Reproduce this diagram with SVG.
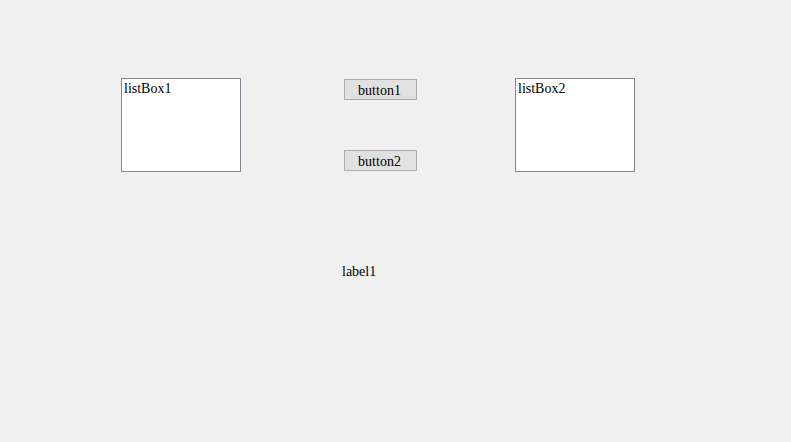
<svg xmlns="http://www.w3.org/2000/svg" width="791" height="442" viewBox="0 0 791 442">
<style>
.lb{fill:#ffffff;stroke:#828790;stroke-width:1}
.btn{fill:#e1e1e1;stroke:#adadad;stroke-width:1}
text{font-family:"Liberation Serif","DejaVu Serif",serif;font-size:14px;fill:#000}
</style>
<rect x="0" y="0" width="791" height="442" fill="#f0f0f0"/>
<g id="listBox1">
<rect class="lb" x="121.5" y="78.5" width="119" height="93"/>
<text x="124" y="93">listBox1</text>
</g>
<g id="button1">
<rect class="btn" x="344.5" y="79.5" width="72" height="20"/>
<text x="379.5" y="95" text-anchor="middle">button1</text>
</g>
<g id="button2">
<rect class="btn" x="344.5" y="150.5" width="72" height="20"/>
<text x="379.5" y="166" text-anchor="middle">button2</text>
</g>
<g id="listBox2">
<rect class="lb" x="515.5" y="78.5" width="119" height="93"/>
<text x="518" y="93">listBox2</text>
</g>
<g id="label1">
<text x="342" y="276">label1</text>
</g>
<g id="connectors"></g>
</svg>
